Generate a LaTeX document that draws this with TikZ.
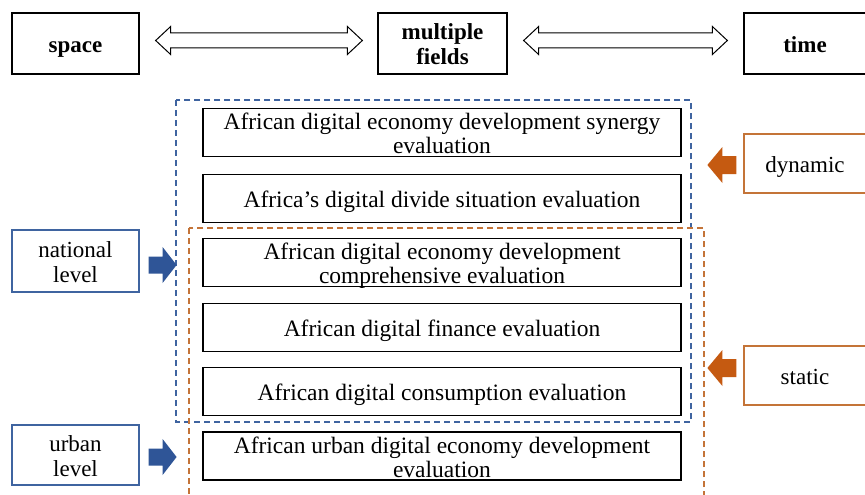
\documentclass[tikz,border=0pt]{standalone}
\usepackage{fontspec}
\setmainfont{Liberation Serif}
\usetikzlibrary{calc}
\definecolor{bluefill}{HTML}{2F5597}
\definecolor{blueline}{HTML}{3F64A0}
\definecolor{orangefill}{HTML}{C55A11}
\definecolor{orangeline}{HTML}{C47438}
\newcommand\hs{\rule{0pt}{24pt}}
\newcommand\ds{\rule[-6pt]{0pt}{6pt}}
\begin{document}
\begin{tikzpicture}[x=1pt,y=-1pt,
  topbox/.style={draw=black,line width=1.3pt,minimum width=#1,minimum height=61pt,inner sep=0pt,align=center,font=\fontsize{23}{25}\selectfont\bfseries},
  evalbox/.style={draw=black,line width=1.3pt,minimum width=478pt,minimum height=48pt,inner sep=0pt,align=center,font=\fontsize{23.5}{24}\selectfont},
  twoline/.style={inner ysep=-4pt},
  levelbox/.style={draw=blueline,line width=1.2pt,minimum width=127pt,inner sep=0pt,align=center,font=\fontsize{23}{25}\selectfont},
  timebox/.style={draw=orangeline,line width=1.2pt,minimum width=122pt,minimum height=59pt,inner sep=0pt,align=center,font=\fontsize{23}{24}\selectfont},
  dblarrow/.style={draw=black,line width=1pt,fill=white,line join=miter},
  bluedash/.style={draw=blueline,line width=1.2pt,dash pattern=on 6pt off 4pt},
  orangedash/.style={draw=orangeline,line width=1.2pt,dash pattern=on 6pt off 4pt}
]
\useasboundingbox (0,0) rectangle (865,495);
\fill[white] (0,0) rectangle (865,495);

% top row
\node[topbox=127pt] (space) at (75.5,43.5) {\hs\ds space};
\node[topbox=129pt] (fields) at (442.5,43.5) {\hs multiple\\\ds fields};
\node[topbox=122pt] (time) at (805,43.5) {\hs\ds time};

% double arrows
\coordinate (d1a) at ($(space.east)+(16,-3)$);
\coordinate (d1b) at ($(fields.west)+(-15,-3)$);
\draw[dblarrow] (d1a) -- ++(15,-14) -- ++(0,6.5) -- ($(d1b)+(-15,-7.5)$) -- ++(0,-6.5) -- (d1b)
  -- ($(d1b)+(-15,14)$) -- ++(0,-6.5) -- ($(d1a)+(15,7.5)$) -- ++(0,6.5) -- cycle;
\coordinate (d2a) at ($(fields.east)+(16,-3)$);
\coordinate (d2b) at ($(time.west)+(-16,-3)$);
\draw[dblarrow] (d2a) -- ++(15,-14) -- ++(0,6.5) -- ($(d2b)+(-15,-7.5)$) -- ++(0,-6.5) -- (d2b)
  -- ($(d2b)+(-15,14)$) -- ++(0,-6.5) -- ($(d2a)+(15,7.5)$) -- ++(0,6.5) -- cycle;

% dashed groups
\draw[bluedash] (176,100) rectangle (691,422);
\draw[orangedash] (189,228) rectangle (704,505);

% evaluation boxes
\node[evalbox,twoline] (b1) at (442,132.5) {\hs African digital economy development synergy\\\ds evaluation};
\node[evalbox] (b2) at (442,198.5) {\hs\ds Africa’s digital divide situation evaluation};
\node[evalbox,twoline] (b3) at (442,262.5) {\hs African digital economy development\\\ds comprehensive evaluation};
\node[evalbox] (b4) at (442,327.5) {\hs\ds African digital finance evaluation};
\node[evalbox] (b5) at (442,391.5) {\hs\ds African digital consumption evaluation};
\node[evalbox,twoline] (b6) at (442,456) {\hs African urban digital economy development\\\ds evaluation};

% left level boxes
\node[levelbox,minimum height=62pt] (nat) at (75.5,261) {\hs national\\\ds level};
\node[levelbox,minimum height=60pt] (urb) at (75.5,455) {\hs urban\\\ds level};

% right time boxes
\node[timebox] (dyn) at (805,163.5) {\hs\ds dynamic};
\node[timebox] (sta) at (805,375.5) {\hs\ds static};

% blue block arrows
\coordinate (na) at ($(nat.east)+(9,4)$);
\fill[bluefill] (na) ++(0,-8.5) -- ++(14,0) -- ++(0,-9.5) -- ++(14,18) -- ++(-14,18) -- ++(0,-9.5) -- ++(-14,0) -- cycle;
\coordinate (ua) at ($(urb.east)+(9,2)$);
\fill[bluefill] (ua) ++(0,-8.5) -- ++(14,0) -- ++(0,-9.5) -- ++(14,18) -- ++(-14,18) -- ++(0,-9.5) -- ++(-14,0) -- cycle;

% orange block arrows
\coordinate (da) at ($(dyn.west)+(-7,1.5)$);
\fill[orangefill] (da) ++(0,-9) -- ++(-14,0) -- ++(0,-9) -- ++(-15,18) -- ++(15,18) -- ++(0,-9) -- ++(14,0) -- cycle;
\coordinate (sa) at ($(sta.west)+(-7,-7.5)$);
\fill[orangefill] (sa) ++(0,-9) -- ++(-14,0) -- ++(0,-9) -- ++(-15,18) -- ++(15,18) -- ++(0,-9) -- ++(14,0) -- cycle;
\end{tikzpicture}
\end{document}
